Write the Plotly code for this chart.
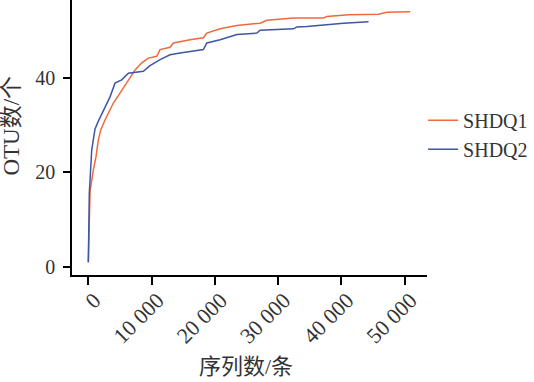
import plotly.graph_objects as go

# SHDQ1 rarefaction curve (sequences vs OTU count)
x1 = [0, 270, 790, 1220, 1580, 1960, 2640, 2910, 3960, 5010, 6330, 7390, 8450, 9490,
      10820, 11340, 12920, 13450, 16090, 18190, 18730, 20830, 23480, 27160, 28220,
      32430, 37180, 37710, 41130, 45880, 47200, 50890]
y1 = [1, 16, 20.5, 23.4, 26.9, 29, 31.1, 31.8, 34.7, 36.8, 39.6, 41.7, 43.2, 44.2,
      44.6, 46, 46.5, 47.4, 48.1, 48.5, 49.5, 50.4, 51.1, 51.6, 52.2,
      52.7, 52.7, 53.0, 53.4, 53.5, 53.9, 54]

# SHDQ2
x2 = [0, 160, 540, 1060, 1530, 1850, 2640, 3430, 4220, 5280, 6330, 8700, 9760, 11340,
      12920, 14510, 18190, 18730, 20830, 23480, 26640, 27160, 32430, 32970, 34550,
      37970, 40340, 44300]
y2 = [1, 15.7, 24.8, 29.2, 30.7, 31.6, 34, 36, 38.9, 39.6, 41, 41.4, 42.6, 43.9,
      44.9, 45.3, 46, 47.4, 48.1, 49.2, 49.5, 50.1, 50.4, 50.8, 50.9,
      51.3, 51.6, 51.9]

series_names = ["SHDQ1", "SHDQ2"]
x_ticks = [0, 10000, 20000, 30000, 40000, 50000]
x_ticklabels = ["0", "10 000", "20 000", "30 000", "40 000", "50 000"]
y_ticks = [0, 20, 40]
x_title = "序列数/条"
y_title = "OTU数/个"

FONT = "Liberation Serif, Times New Roman, Noto Sans CJK SC, serif"
TXT = "#333333"

fig = go.Figure()
fig.add_trace(go.Scatter(x=x1, y=y1, mode="lines", name=series_names[0],
                         line=dict(color="#EE6A3C", width=1.5)))
fig.add_trace(go.Scatter(x=x2, y=y2, mode="lines", name=series_names[1],
                         line=dict(color="#3F55A5", width=1.5)))

fig.update_layout(
    width=534, height=382,
    margin=dict(l=72, r=107, t=0, b=107),
    paper_bgcolor="white", plot_bgcolor="white",
    font=dict(family=FONT, size=20, color=TXT),
    legend=dict(x=0.989, y=0.51, xanchor="left", yanchor="middle",
                font=dict(family=FONT, size=20, color=TXT),
                bgcolor="rgba(0,0,0,0)", tracegroupgap=0),
    xaxis=dict(range=[-2580, 53540], tickvals=x_ticks, ticktext=x_ticklabels,
               tickangle=-45, showgrid=False, zeroline=False,
               showline=True, linecolor="black", linewidth=1.5,
               ticks="outside", ticklen=8, tickwidth=1.5, tickcolor="black",
               ticklabelshift=6, ticklabelstandoff=-6,
               tickfont=dict(family=FONT, size=22, color=TXT)),
    yaxis=dict(range=[-1.7, 56.5], tickvals=y_ticks, showgrid=False, zeroline=False,
               showline=True, linecolor="black", linewidth=1.5,
               ticks="outside", ticklen=7, tickwidth=1.5, tickcolor="black",
               ticklabelstandoff=4,
               tickfont=dict(family=FONT, size=20, color=TXT)),
    annotations=[
        dict(text=x_title, xref="paper", yref="paper", x=0.4915, y=-0.3345,
             xanchor="center", yanchor="middle", showarrow=False,
             font=dict(family=FONT, size=22, color=TXT)),
        dict(text=y_title, xref="paper", yref="paper", x=-0.17, y=0.542,
             xanchor="center", yanchor="middle", showarrow=False, textangle=-90,
             font=dict(family=FONT, size=23, color=TXT)),
    ],
)

fig.write_html("out.html")
